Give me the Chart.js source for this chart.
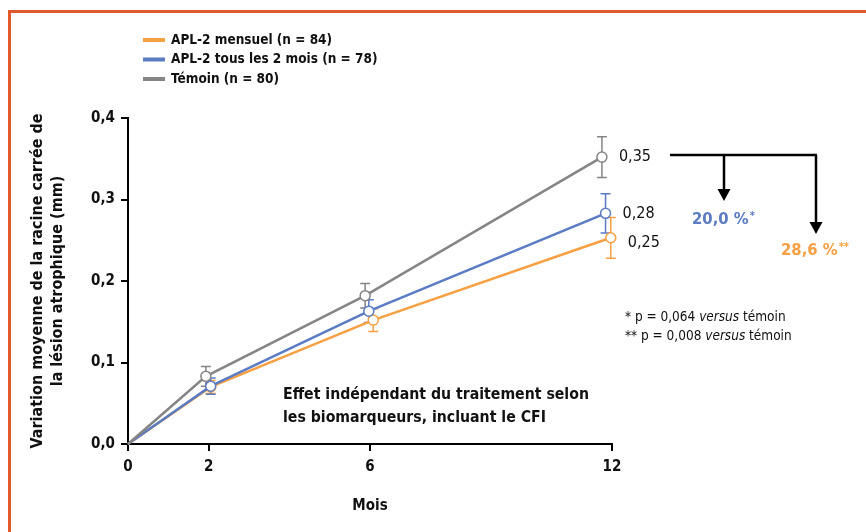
<!DOCTYPE html>
<html lang="fr">
<head>
  <meta charset="UTF-8" />
  <title>Variation moyenne de la racine carrée de la lésion atrophique</title>
  <script src="https://cdn.jsdelivr.net/npm/chart.js"></script>
  <style>
    html, body { margin: 0; padding: 0; background: #fff; }
    body { width: 866px; height: 532px; overflow: hidden; position: relative; }
    .frame {
      position: absolute; left: 8px; top: 10px; width: 900px; height: 560px;
      border-left: 3px solid #e05a2b; border-top: 3px solid #e05a2b;
    }
    .wrap { position: absolute; left: 0; top: 0; width: 866px; height: 532px; }
  </style>
</head>
<body>
  <div class="frame"></div>
  <div class="wrap"><canvas id="chart" width="866" height="532"></canvas></div>

  <script>
    // Data (x = visit month, as plotted)
    const monthTicks = [0, 2, 6, 12];
    const yTicks = [0, 0.1, 0.2, 0.3, 0.4];

    const mensuelX = [0, 2.05, 6.08, 11.97];
    const mensuel = [0, 0.070, 0.152, 0.253];
    const mensuelErr = [0, 0.008, 0.014, 0.025];

    const bimestrielX = [0, 2.05, 5.97, 11.84];
    const bimestriel = [0, 0.071, 0.163, 0.283];
    const bimestrielErr = [0, 0.010, 0.014, 0.024];

    const temoinX = [0, 1.93, 5.88, 11.75];
    const temoin = [0, 0.083, 0.182, 0.352];
    const temoinErr = [0, 0.012, 0.015, 0.025];

    const seriesLabels = ['APL-2 mensuel (n = 84)', 'APL-2 tous les 2 mois (n = 78)', 'Témoin (n = 80)'];
    const colors = ['#f7a043', '#5b7bc3', '#858585'];

    const FONT = '"DejaVu Sans Condensed", "DejaVu Sans", sans-serif';
    const comma = v => v.toFixed(2).replace('.', ',');

    function makeSet(i, xs, values, errs, order) {
      return {
        label: seriesLabels[i],
        data: xs.map((x, k) => ({ x: x, y: values[k] })),
        errors: errs,
        borderColor: colors[i],
        backgroundColor: '#fff',
        borderWidth: 2.5,
        pointRadius: xs.map(x => x === 0 ? 0 : 5),
        pointBorderWidth: 1.5,
        pointBackgroundColor: '#fff',
        pointBorderColor: colors[i],
        tension: 0,
        clip: false,
        order: order
      };
    }

    const errorBars = {
      id: 'errorBars',
      beforeDatasetsDraw(chart) {
        const ctx = chart.ctx, y = chart.scales.y;
        chart.data.datasets.forEach((ds, di) => {
          const meta = chart.getDatasetMeta(di);
          ctx.save();
          ctx.strokeStyle = ds.borderColor;
          ctx.lineWidth = 1.5;
          meta.data.forEach((pt, i) => {
            const e = ds.errors[i];
            if (!e) return;
            const v = ds.data[i].y;
            const t = y.getPixelForValue(v + e), b = y.getPixelForValue(v - e);
            ctx.beginPath();
            ctx.moveTo(pt.x, t); ctx.lineTo(pt.x, b);
            ctx.moveTo(pt.x - 5, t); ctx.lineTo(pt.x + 5, t);
            ctx.moveTo(pt.x - 5, b); ctx.lineTo(pt.x + 5, b);
            ctx.stroke();
          });
          ctx.restore();
        });
      }
    };

    const annotations = {
      id: 'annotations',
      afterDraw(chart) {
        const ctx = chart.ctx;
        ctx.save();

        // legend
        ctx.textBaseline = 'middle';
        ctx.font = 'bold 13.5px ' + FONT;
        seriesLabels.forEach((l, i) => {
          const yy = 40 + i * 19.5;
          ctx.fillStyle = colors[i];
          ctx.fillRect(143, yy - 2, 22, 4);
          ctx.fillStyle = '#111';
          ctx.textAlign = 'left';
          ctx.fillText(l, 171, yy);
        });

        // end values
        ctx.font = '16px ' + FONT;
        ctx.fillStyle = '#111';
        const lastDy = [5, 0, 0];
        chart.data.datasets.forEach((ds, di) => {
          const meta = chart.getDatasetMeta(di);
          const n = meta.data.length - 1;
          const pt = meta.data[n];
          ctx.fillText(comma(ds.data[n].y), pt.x + 17, pt.y + lastDy[di]);
        });

        // bracket with arrows
        ctx.strokeStyle = '#000';
        ctx.fillStyle = '#000';
        ctx.lineWidth = 2.5;
        ctx.beginPath();
        ctx.moveTo(670, 155); ctx.lineTo(817, 155);
        ctx.moveTo(724, 155); ctx.lineTo(724, 191);
        ctx.moveTo(816, 155); ctx.lineTo(816, 224);
        ctx.stroke();
        [[724, 201], [816, 234]].forEach(([ax, ay]) => {
          ctx.beginPath();
          ctx.moveTo(ax - 6.5, ay - 12); ctx.lineTo(ax + 6.5, ay - 12); ctx.lineTo(ax, ay);
          ctx.closePath(); ctx.fill();
        });

        // reductions
        function pct(text, stars, x, y, col) {
          ctx.fillStyle = col;
          ctx.font = 'bold 16.5px ' + FONT;
          ctx.fillText(text, x, y);
          const w = ctx.measureText(text).width;
          ctx.font = 'bold 11px ' + FONT;
          ctx.fillText(stars, x + w + 1, y - 4);
        }
        pct('20,0 %', '*', 692, 220, colors[1]);
        pct('28,6 %', '**', 781, 251, colors[0]);

        // p-values
        function pline(pre, x, y) {
          ctx.fillStyle = '#111';
          ctx.font = '13.5px ' + FONT;
          ctx.fillText(pre, x, y);
          let w = ctx.measureText(pre).width;
          ctx.font = 'italic 13.5px ' + FONT;
          ctx.fillText('versus', x + w, y);
          w += ctx.measureText('versus ').width;
          ctx.font = '13.5px ' + FONT;
          ctx.fillText('témoin', x + w, y);
        }
        pline('* p = 0,064 ', 625, 317);
        pline('** p = 0,008 ', 625, 336);

        // treatment note
        ctx.fillStyle = '#111';
        ctx.font = 'bold 15.7px ' + FONT;
        ctx.fillText('Effet indépendant du traitement selon', 283, 395);
        ctx.fillText('les biomarqueurs, incluant le CFI', 283, 418);

        ctx.restore();
      }
    };

    new Chart(document.getElementById('chart'), {
      type: 'line',
      data: {
        datasets: [
          makeSet(0, mensuelX, mensuel, mensuelErr, 3),
          makeSet(1, bimestrielX, bimestriel, bimestrielErr, 2),
          makeSet(2, temoinX, temoin, temoinErr, 1)
        ]
      },
      options: {
        responsive: false,
        animation: false,
        layout: { padding: { left: 0, right: 254, top: 118, bottom: 0 } },
        plugins: { legend: { display: false }, tooltip: { enabled: false } },
        scales: {
          x: {
            type: 'linear', min: 0, max: 12,
            afterBuildTicks: s => { s.ticks = monthTicks.map(v => ({ value: v })); },
            afterFit: s => { s.height = 88; },
            grid: { drawOnChartArea: false, color: '#000', lineWidth: 2, tickLength: 7 },
            border: { color: '#000', width: 2 },
            ticks: { color: '#111', font: { family: FONT, size: 15, weight: 'bold' }, padding: 7, maxRotation: 0 },
            title: {
              display: true, text: 'Mois', color: '#111',
              font: { family: FONT, size: 15, weight: 'bold' }, padding: { top: 0, bottom: 17 }
            }
          },
          y: {
            min: 0, max: 0.4,
            afterBuildTicks: s => { s.ticks = yTicks.map(v => ({ value: v })); },
            afterFit: s => { s.width = 128; },
            grid: { drawOnChartArea: false, color: '#000', lineWidth: 2, tickLength: 7 },
            border: { color: '#000', width: 2 },
            ticks: {
              color: '#111', font: { family: FONT, size: 15, weight: 'bold' }, padding: 6,
              callback: v => v.toFixed(1).replace('.', ',')
            },
            title: {
              display: true,
              text: ['Variation moyenne de la racine carrée de', 'la lésion atrophique (mm)'],
              color: '#111', font: { family: FONT, size: 16, weight: 'bold', lineHeight: 1.25 },
              padding: { top: 28, bottom: 0 }
            }
          }
        }
      },
      plugins: [errorBars, annotations]
    });
  </script>
</body>
</html>
